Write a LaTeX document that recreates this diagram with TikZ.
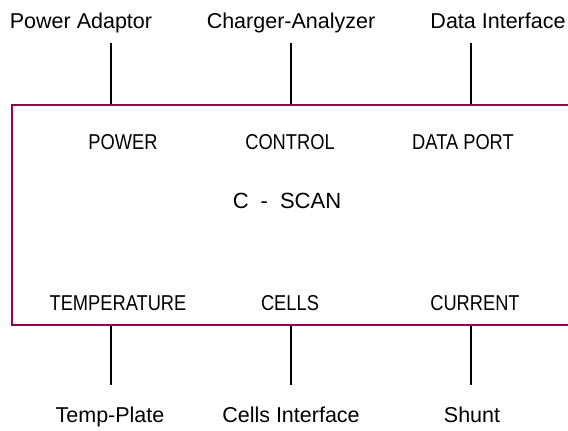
\documentclass[tikz,border=0pt]{standalone}
\usepackage{fontspec}
\setmainfont{Liberation Sans}
\newfontfamily\narrowfont[FakeStretch=0.85]{Liberation Sans}
\definecolor{boxred}{RGB}{150,0,80}
\begin{document}
\begin{tikzpicture}[x=1pt,y=-1pt,
  outer/.style={anchor=base,inner sep=0pt,font=\fontsize{21.5}{25}\selectfont},
  inner/.style={anchor=base,inner sep=0pt,font=\narrowfont\fontsize{21.5}{25}\selectfont},
  title/.style={anchor=base,inner sep=0pt,font=\fontsize{22}{26}\selectfont},
  link/.style={draw=black,line width=1.6pt},
  frame/.style={draw=boxred,line width=1.8pt,minimum width=640pt,minimum height=220pt,inner sep=0pt,anchor=north west}]
\useasboundingbox (0,0) rectangle (568,431);
\clip (0,0) rectangle (568,431);
% box
\node[frame] (box) at (11,104) {};
% outer labels
\node[outer] (pa) at (81,28) {Power Adaptor};
\node[outer] (ca) at (291,28) {Charger-Analyzer};
\node[outer] (di) at (498,28) {Data Interface};
\node[outer] (tp) at (110,422) {Temp-Plate};
\node[outer] (ci) at (291,422) {Cells Interface};
\node[outer] (sh) at (472,422) {Shunt};
% inner labels
\node[inner] (pw) at (123,149) {POWER};
\node[inner] (ct) at (290,149) {CONTROL};
\node[inner] (dp) at (463,149) {DATA PORT};
\node[inner] (te) at (118,310) {TEMPERATURE};
\node[inner] (ce) at (290,310) {CELLS};
\node[inner] (cu) at (475,310) {CURRENT};
\node[title] (cs) at (287,208) {C\hspace{12pt}-\hspace{12pt}SCAN};
% connector ends
\coordinate (t1) at (111,43);
\coordinate (t2) at (291,43);
\coordinate (t3) at (471,43);
\coordinate (b1) at (111,385);
\coordinate (b2) at (291,385);
\coordinate (b3) at (471,385);
\draw[link] (t1) -- (t1 |- box.north);
\draw[link] (t2) -- (t2 |- box.north);
\draw[link] (t3) -- (t3 |- box.north);
\draw[link] (b1) -- (b1 |- box.south);
\draw[link] (b2) -- (b2 |- box.south);
\draw[link] (b3) -- (b3 |- box.south);
\node[frame] at (11,104) {};
\end{tikzpicture}
\end{document}
